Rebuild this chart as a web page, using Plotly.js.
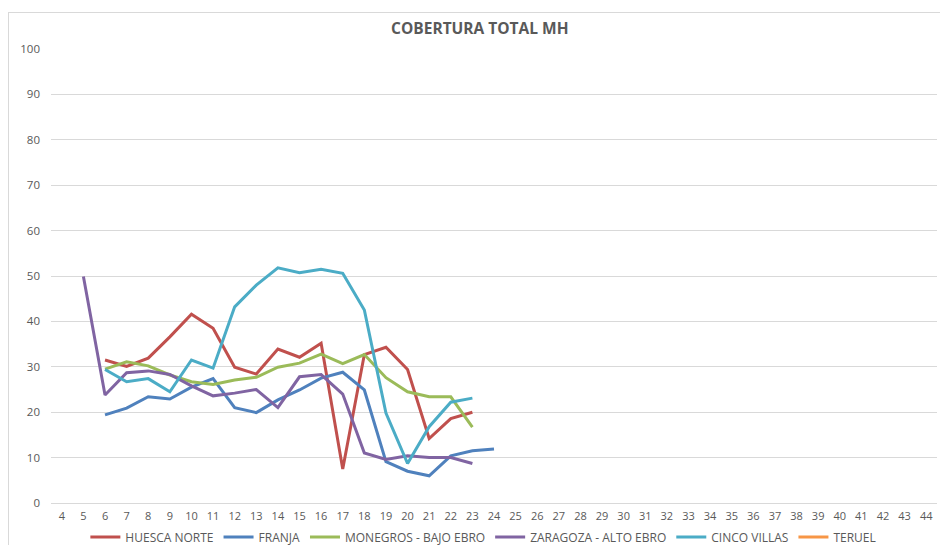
<!DOCTYPE html>
<html>
<head>
<meta charset="utf-8">
<script src="https://cdn.plot.ly/plotly-3.0.1.min.js"></script>
<style>
  html, body { margin: 0; padding: 0; background: #ffffff; }
  #frame { position: absolute; left: 8px; top: 12px; width: 1000px; height: 600px; border: 1px solid #d9d9d9; box-sizing: border-box; pointer-events: none; }
  #chart { position: absolute; left: 0; top: 0; width: 940px; height: 545px; }
</style>
</head>
<body>
<div id="chart"></div>
<div id="frame"></div>
<script>
// X categories (weeks)
const categories = ['4','5','6','7','8','9','10','11','12','13','14','15','16','17','18','19','20','21','22','23','24','25','26','27','28','29','30','31','32','33','34','35','36','37','38','39','40','41','42','43','44'];

// Weeks that carry data
const weeks = ['5','6','7','8','9','10','11','12','13','14','15','16','17','18','19','20','21','22','23','24'];

// Series values aligned with `weeks` (null = no data)
const huescaNorte = [null, 31.5, 30.1, 31.9, 36.6, 41.6, 38.5, 29.9, 28.4, 33.9, 32.1, 35.2, 7.5, 32.7, 34.3, 29.4, 14.2, 18.6, 20.0, null];
const franja      = [null, 19.4, 20.9, 23.4, 22.9, 25.5, 27.4, 21.0, 19.9, 22.7, 24.9, 27.5, 28.8, 24.9, 9.1, 7.0, 6.0, 10.4, 11.5, 11.9];
const monegros    = [null, 29.5, 31.1, 30.2, 28.2, 26.7, 26.1, 27.1, 27.7, 29.9, 30.8, 32.8, 30.7, 32.7, 27.6, 24.5, 23.4, 23.4, 16.7, null];
const zaragoza    = [49.9, 23.8, 28.7, 29.1, 28.3, 25.8, 23.6, 24.2, 25.0, 21.0, 27.8, 28.3, 24.0, 11.0, 9.6, 10.4, 10.0, 10.0, 8.7, null];
const cincoVillas = [null, 29.4, 26.7, 27.4, 24.5, 31.5, 29.7, 43.2, 48.0, 51.8, 50.7, 51.5, 50.6, 42.5, 19.8, 8.7, 16.8, 22.2, 23.1, null];
const teruel      = [null, null, null, null, null, null, null, null, null, null, null, null, null, null, null, null, null, null, null, null];

const seriesNames = ['HUESCA NORTE', 'FRANJA', 'MONEGROS - BAJO EBRO', 'ZARAGOZA - ALTO EBRO', 'CINCO VILLAS', 'TERUEL'];
const seriesValues = [huescaNorte, franja, monegros, zaragoza, cincoVillas, teruel];
const seriesColors = ['#C0504D', '#4F81BD', '#9BBB59', '#8064A2', '#4BACC6', '#F79646'];

const yTicks = [0, 10, 20, 30, 40, 50, 60, 70, 80, 90, 100];

const traces = seriesNames.map((name, i) => ({
  type: 'scatter',
  mode: 'lines',
  name: name,
  x: weeks,
  y: seriesValues[i],
  connectgaps: false,
  line: { color: seriesColors[i], width: 3 },
  hoverinfo: 'x+y+name'
}));

const font = 'Open Sans, Liberation Sans, sans-serif';

const layout = {
  width: 940,
  height: 545,
  paper_bgcolor: '#ffffff',
  plot_bgcolor: '#ffffff',
  margin: { l: 51, r: 3, t: 49, b: 42, autoexpand: false },
  font: { family: font, color: '#595959', size: 11 },
  title: {
    text: '<b>COBERTURA TOTAL MH</b>',
    font: { family: font, size: 15.5, color: '#595959' },
    x: 0.484, xanchor: 'center',
    y: 0.947, yanchor: 'middle', xref: 'paper', yref: 'container'
  },
  xaxis: {
    type: 'category',
    categoryorder: 'array',
    categoryarray: categories,
    tickvals: categories,
    ticktext: categories,
    range: [-0.5, categories.length - 0.5],
    showgrid: false,
    zeroline: false,
    showline: false,
    ticks: '',
    ticklabelstandoff: 5,
    tickfont: { family: font, size: 11, color: '#595959' },
    fixedrange: true
  },
  yaxis: {
    range: [0, 100],
    tickvals: yTicks,
    ticktext: yTicks.map(String),
    showgrid: true,
    gridcolor: '#d9d9d9',
    gridwidth: 1,
    zeroline: true,
    zerolinecolor: '#d9d9d9',
    zerolinewidth: 1,
    showline: false,
    ticks: '',
    ticklabelstandoff: 10,
    tickfont: { family: font, size: 11.5, color: '#595959' },
    fixedrange: true
  },
  showlegend: true,
  legend: {
    orientation: 'h',
    x: 0.488, xanchor: 'center',
    y: -0.075, yanchor: 'middle',
    font: { family: font, size: 12, color: '#595959' },
    itemwidth: 30,
    tracegroupgap: 0,
    bgcolor: 'rgba(0,0,0,0)'
  }
};

Plotly.newPlot('chart', traces, layout, { displayModeBar: false, staticPlot: true });
</script>
</body>
</html>
